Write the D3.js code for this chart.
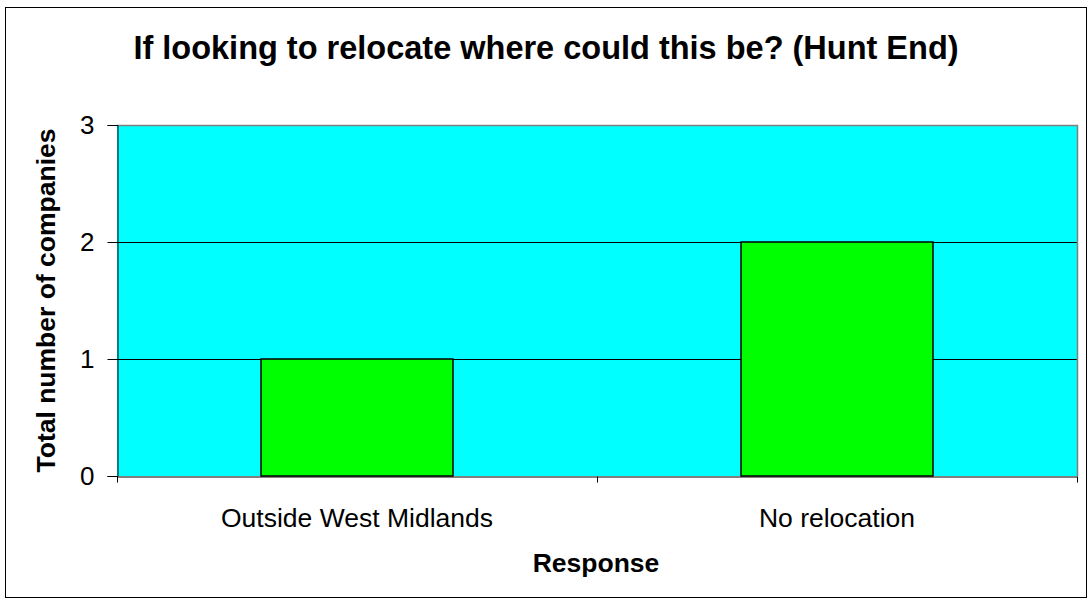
<!DOCTYPE html>
<html>
<head>
<meta charset="utf-8">
<script src="https://cdn.jsdelivr.net/npm/d3@7"></script>
<style>
  body { margin: 0; background: #fff; }
  text { font-family: "Liberation Sans", Arial, sans-serif; }
</style>
</head>
<body>
<div id="chart"></div>
<script>
const categories = ['Outside West Midlands', 'No relocation'];
const counts = [1, 2];
const yTicks = [0, 1, 2, 3];

const width = 1092, height = 604;
const plot = { left: 117, right: 1077, top: 125, bottom: 476 };

const svg = d3.select('#chart').append('svg')
    .attr('width', width)
    .attr('height', height);

// outer frame
svg.append('rect')
    .attr('x', 5.5).attr('y', 7.5)
    .attr('width', 1081).attr('height', 590)
    .attr('fill', '#fff')
    .attr('stroke', '#000')
    .attr('stroke-width', 1);

const x = d3.scaleBand()
    .domain(categories)
    .range([plot.left, plot.right])
    .paddingInner(0.6)
    .paddingOuter(0.3);

const y = d3.scaleLinear()
    .domain([0, 3])
    .range([plot.bottom, plot.top]);

// plot background
svg.append('rect')
    .attr('x', plot.left).attr('y', plot.top)
    .attr('width', plot.right - plot.left)
    .attr('height', plot.bottom - plot.top)
    .attr('fill', '#00ffff');

// gridlines
svg.selectAll('.grid')
    .data(yTicks.filter(d => d > 0 && d < 3))
    .enter().append('line')
    .attr('x1', plot.left).attr('x2', plot.right)
    .attr('y1', d => Math.round(y(d)) + 0.5)
    .attr('y2', d => Math.round(y(d)) + 0.5)
    .attr('stroke', '#000')
    .attr('stroke-width', 1);

// top and right border of plot area
svg.append('path')
    .attr('d', `M${plot.left},${plot.top + 0.5}H${plot.right + 0.5}V${plot.bottom}`)
    .attr('fill', 'none')
    .attr('stroke', '#808080')
    .attr('stroke-width', 1.5);

// bars
svg.selectAll('.bar')
    .data(categories)
    .enter().append('rect')
    .attr('class', 'bar')
    .attr('x', d => x(d))
    .attr('y', (d, i) => y(counts[i]))
    .attr('width', x.bandwidth())
    .attr('height', (d, i) => y(0) - y(counts[i]))
    .attr('fill', '#00ff00')
    .attr('stroke', '#000')
    .attr('stroke-width', 1.5);

// y axis
const yAxis = svg.append('g')
    .attr('transform', `translate(${plot.left + 0.5},0)`)
    .call(d3.axisLeft(y).tickValues(yTicks).tickFormat(d3.format('d')).tickSize(10).tickPadding(13));
yAxis.select('.domain').attr('stroke', '#000');
yAxis.selectAll('.tick line').attr('stroke', '#000');
yAxis.selectAll('text')
    .attr('font-size', 26)
    .attr('fill', '#000')
    .style('font-family', '"Liberation Sans", Arial, sans-serif');

// x axis
const xEdges = d3.scaleLinear().domain([0, 2]).range([plot.left, plot.right]);
const xAxis = svg.append('g')
    .attr('transform', `translate(0,${plot.bottom + 0.5})`)
    .call(d3.axisBottom(xEdges).tickValues([0, 1, 2]).tickFormat('').tickSize(6).tickSizeOuter(0));
xAxis.select('.domain').attr('stroke', '#000');
xAxis.selectAll('.tick line').attr('stroke', '#000');

svg.selectAll('.cat-label')
    .data(categories)
    .enter().append('text')
    .attr('class', 'cat-label')
    .attr('x', d => x(d) + x.bandwidth() / 2)
    .attr('y', 527)
    .attr('text-anchor', 'middle')
    .attr('font-size', 26.5)
    .text(d => d);

// titles
svg.append('text')
    .attr('x', 546).attr('y', 59)
    .attr('text-anchor', 'middle')
    .attr('font-size', 32.5)
    .attr('font-weight', 'bold')
    .text('If looking to relocate where could this be? (Hunt End)');

svg.append('text')
    .attr('x', 596).attr('y', 572)
    .attr('text-anchor', 'middle')
    .attr('font-size', 26.5)
    .attr('font-weight', 'bold')
    .text('Response');

svg.append('text')
    .attr('transform', `translate(55,${(plot.top + plot.bottom) / 2}) rotate(-90)`)
    .attr('text-anchor', 'middle')
    .attr('font-size', 26.5)
    .attr('font-weight', 'bold')
    .text('Total number of companies');
</script>
</body>
</html>
